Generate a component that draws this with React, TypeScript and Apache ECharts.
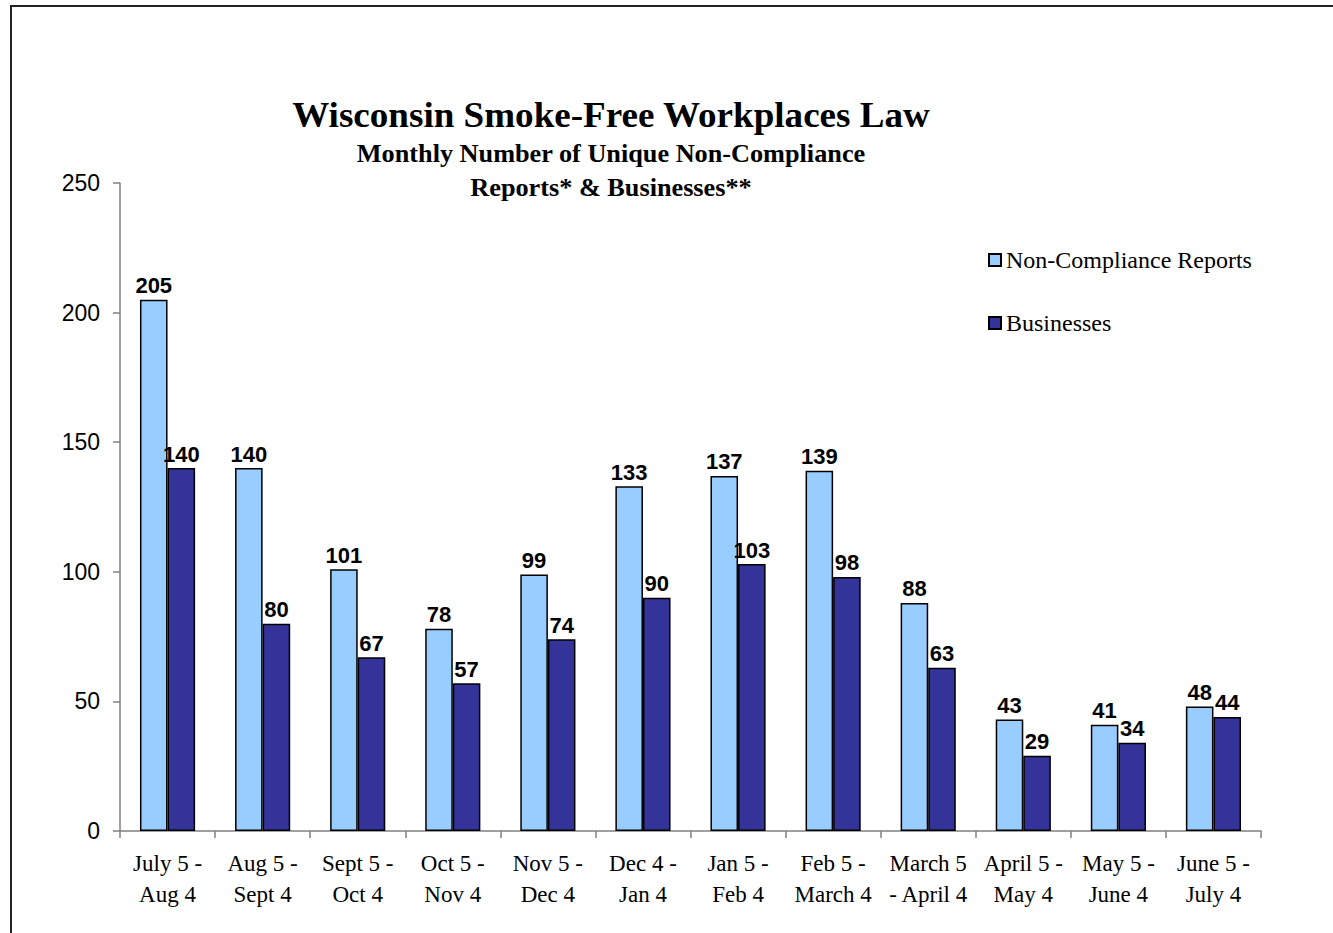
import React, { useEffect, useRef } from "react";
import * as echarts from "echarts";

const categories = [
  "July 5 -\nAug 4",
  "Aug 5 -\nSept 4",
  "Sept 5 -\nOct 4",
  "Oct 5 -\nNov 4",
  "Nov 5 -\nDec 4",
  "Dec 4 -\nJan 4",
  "Jan 5 -\nFeb 4",
  "Feb 5 -\nMarch 4",
  "March 5\n- April 4",
  "April 5 -\nMay 4",
  "May 5 -\nJune 4",
  "June 5 -\nJuly 4",
];
const reports = [205, 140, 101, 78, 99, 133, 137, 139, 88, 43, 41, 48];
const businesses = [140, 80, 67, 57, 74, 90, 103, 98, 63, 29, 34, 44];

const SERIF = "'Liberation Serif', 'Times New Roman', serif";
const SANS = "'Liberation Sans', Arial, sans-serif";

export default function App() {
  const ref = useRef<HTMLDivElement>(null);
  useEffect(() => {
    if (!ref.current) return;
    const chart = echarts.init(ref.current, null, { renderer: "svg" });
    const labelStyle = {
      show: true,
      position: "top",
      distance: 3,
      fontFamily: SANS,
      fontWeight: "bold",
      fontSize: 22,
      color: "#000",
    };
    chart.setOption({
      animation: false,
      backgroundColor: "#fff",
      grid: { left: 120, top: 183, right: 72, bottom: 102, containLabel: false },
      legend: {
        orient: "vertical",
        left: 983,
        top: 243,
        itemWidth: 12,
        itemHeight: 12,
        itemGap: 39,
        icon: "rect",
        textStyle: { fontFamily: SERIF, fontSize: 24, color: "#000", padding: [0, 0, 0, 0] },
        data: ["Non-Compliance Reports", "Businesses"],
      },
      xAxis: {
        type: "category",
        data: categories,
        axisLine: { lineStyle: { color: "#808080", width: 1.5 } },
        axisTick: { show: true, length: 7, lineStyle: { color: "#808080", width: 1.5 } },
        axisLabel: {
          fontFamily: SERIF,
          fontSize: 23,
          color: "#000",
          lineHeight: 31,
          margin: 17,
          interval: 0,
        },
      },
      yAxis: {
        type: "value",
        min: 0,
        max: 250,
        interval: 50,
        axisLine: { show: true, lineStyle: { color: "#808080", width: 1.5 } },
        axisTick: { show: true, length: 7, lineStyle: { color: "#808080", width: 1.5 } },
        splitLine: { show: false },
        axisLabel: { fontFamily: SANS, fontSize: 23, color: "#000", margin: 20 },
      },
      graphic: [
        {
          type: "rect",
          shape: { x: 11, y: 6, width: 1400, height: 1000 },
          style: { fill: "none", stroke: "#222", lineWidth: 2 },
          silent: true,
        },
        {
          type: "text",
          x: 611,
          y: 115,
          scaleX: 1.06,
          style: {
            text: "Wisconsin Smoke-Free Workplaces Law",
            fontFamily: SERIF,
            fontWeight: "bold",
            fontSize: 35,
            fill: "#000",
            align: "center",
            verticalAlign: "middle",
          },
        },
        {
          type: "text",
          x: 611,
          y: 154,
          scaleX: 1.05,
          style: {
            text: "Monthly Number of Unique Non-Compliance",
            fontFamily: SERIF,
            fontWeight: "bold",
            fontSize: 25,
            fill: "#000",
            align: "center",
            verticalAlign: "middle",
          },
        },
        {
          type: "text",
          x: 611,
          y: 188,
          scaleX: 1.05,
          style: {
            text: "Reports* & Businesses**",
            fontFamily: SERIF,
            fontWeight: "bold",
            fontSize: 25,
            fill: "#000",
            align: "center",
            verticalAlign: "middle",
          },
        },
      ],
      series: [
        {
          name: "Non-Compliance Reports",
          type: "bar",
          data: reports,
          barGap: "0%",
          barCategoryGap: "42%",
          itemStyle: { color: "#99CCFF", borderColor: "#000", borderWidth: 1.5 },
          label: labelStyle,
        },
        {
          name: "Businesses",
          type: "bar",
          data: businesses,
          barGap: "0%",
          barCategoryGap: "42%",
          itemStyle: { color: "#333399", borderColor: "#000", borderWidth: 1.5 },
          label: labelStyle,
        },
      ],
    });
    return () => chart.dispose();
  }, []);
  return (
    <div
      ref={ref}
      style={{ position: "absolute", left: 0, top: 0, width: 1333, height: 933 }}
    />
  );
}
